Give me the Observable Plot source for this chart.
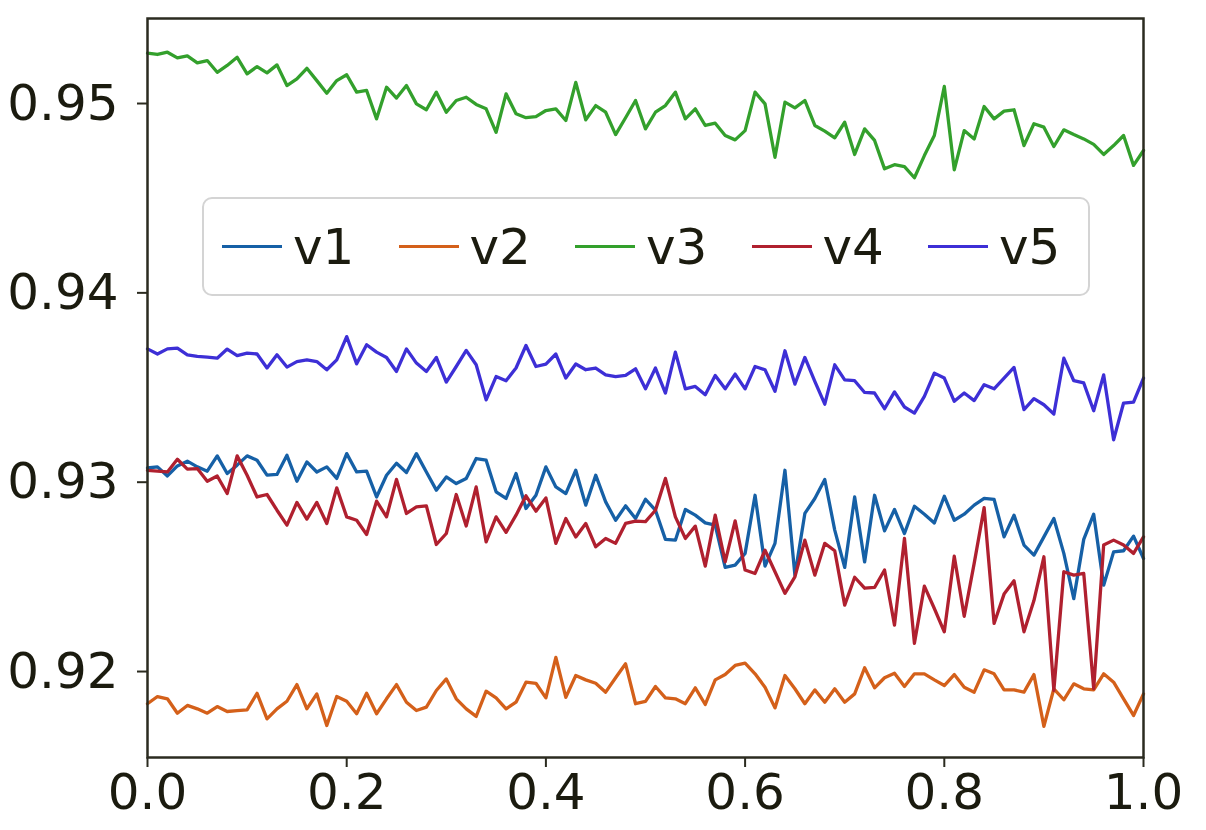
<!DOCTYPE html>
<html><head><meta charset="utf-8">
<script src="https://cdn.jsdelivr.net/npm/d3@7"></script>
<script src="https://cdn.jsdelivr.net/npm/@observablehq/plot@0.6"></script>
<style>
body{margin:0;background:#fff;}
#wrap{position:relative;width:1206px;height:830px;}
#legend{position:absolute;left:202px;top:197px;width:884px;height:95px;border:2px solid #d4d4d4;border-radius:10px;background:rgba(255,255,255,0.85);}
.item{position:absolute;top:0;height:95px;display:flex;align-items:center;}
.sw{width:60px;height:3px;margin-right:11px}
.lab{font:50px "DejaVu Sans";color:#1b1b0f;line-height:1}
</style></head>
<body><div id="wrap"></div>
<script>
const names = ["v1","v2","v3","v4","v5"];
const colors = ["#1660a6","#d4601a","#33a02c","#b0202f","#3d2fd6"];
const xTicks = [0,0.2,0.4,0.6,0.8,1.0];
const yTicks = [0.92,0.93,0.94,0.95];
const yDomain = [0.91546,0.95449];
const xDomain = [0,1];
const xStep = 0.01;

const v1 = [0.93075,0.93081,0.93033,0.93086,0.93111,0.93081,0.93058,0.93139,0.93046,0.9309,
0.93139,0.93116,0.93037,0.93041,0.93142,0.93005,0.93107,0.93054,0.93081,0.9302,
0.93151,0.93054,0.93058,0.92922,0.93037,0.931,
0.93051,0.93151,0.93054,0.92958,0.93028,0.92993,0.9302,0.93125,0.93116,0.92949,
0.92914,0.93046,0.92861,0.92931,0.93081,0.92975,0.9294,0.93063,0.92879,0.93037,
0.92896,0.92799,0.92875,0.92808,0.9291,
0.92852,0.92698,0.92694,0.92856,0.92826,0.92785,0.92773,0.9255,0.92562,0.92624,
0.92931,0.92557,0.92677,0.93063,0.92509,0.92835,0.92914,0.93014,0.92747,0.9255,
0.92922,0.92579,0.92931,0.92743,0.92856,
0.92729,0.92873,0.92831,0.92785,0.92926,0.92799,0.92831,0.92879,0.92914,0.92909,
0.92711,0.92826,0.92668,0.92615,0.92711,0.92808,0.92624,0.92385,0.92698,0.92831,
0.92456,0.92632,0.92638,0.92715,0.92597];

const v2 = [0.9183,0.91868,0.91856,0.9178,0.91821,0.91803,0.9178,0.91815,0.91789,0.91794,
0.91798,0.91885,0.9175,0.91803,0.91843,0.91931,0.91803,0.91882,0.91715,0.91868,
0.91843,0.91777,0.91885,0.91777,0.91856,0.91931,0.91838,0.91794,0.91812,0.919,
0.91961,0.91856,0.91803,0.91763,0.91896,0.91861,0.91803,0.91838,0.91944,0.91938,
0.91861,0.92075,0.91864,0.91979,0.91956,0.91938,0.91891,0.91967,0.92041,0.9183,
0.91842,
0.91921,0.91861,0.91856,0.9183,0.91914,0.91826,0.91956,0.91984,0.92032,0.92044,
0.91988,0.91917,0.91808,0.91979,0.91909,0.9183,0.91903,0.91838,0.91909,0.91838,
0.91882,0.9202,0.91914,0.91967,0.91991,0.91921,0.91988,0.91988,0.91956,0.91926,
0.91984,0.91917,0.91891,0.92009,0.91988,0.91903,0.91903,0.91891,0.91984,0.9171,
0.91909,0.91851,0.91935,0.91909,0.91903,0.91988,0.91944,0.91856,0.91768,0.91882];

const v3 = [0.95266,0.95259,0.95271,0.95241,0.95252,0.95215,0.95227,0.95165,0.95201,0.95244,
0.95157,0.95195,0.95162,0.95204,0.95095,0.9513,0.95186,0.95121,0.95054,0.95121,
0.95152,0.9506,0.95069,0.94919,0.95086,0.95029,
0.95095,0.94998,0.94967,0.9506,0.94954,0.95016,0.95033,0.94995,0.94972,0.94848,
0.95051,0.94946,0.94925,0.94931,0.94963,0.94972,0.9491,0.95112,0.94914,0.94989,
0.94954,0.94836,0.94925,0.95016,0.94866,
0.94954,0.94989,0.9506,0.94919,0.94972,0.94884,0.94896,0.94831,0.94808,0.94857,
0.9506,0.94998,0.94716,0.95007,0.94977,0.95016,0.94884,0.94854,0.94819,0.94901,
0.94731,0.94866,0.94805,0.94655,0.94677,
0.94667,0.94608,0.94725,0.94831,0.9509,0.9465,0.94857,0.94813,0.94984,0.94919,
0.9496,0.94967,0.94778,0.94893,0.94875,0.94773,0.94861,0.94836,0.94813,0.94784,
0.94731,0.94778,0.94831,0.94673,0.94752];

const v4 = [0.93063,0.93058,0.93054,0.93121,0.93069,0.93072,0.93005,0.93033,0.9294,0.93139,
0.93037,0.92922,0.92935,0.92852,0.92773,0.92893,0.92805,0.92893,0.92782,0.9297,
0.92817,0.92799,0.92724,0.929,0.92817,0.93015,
0.92835,0.9287,0.92875,0.92671,0.92729,0.92935,0.92769,0.92975,0.92685,0.92817,
0.92735,0.92826,0.92928,0.92847,0.92917,0.92677,0.92808,0.92711,0.92782,0.92659,
0.92703,0.92677,0.92782,0.92794,0.92792,
0.92852,0.9302,0.92817,0.92703,0.92768,0.92557,0.92826,0.92579,0.92796,0.92536,
0.92518,0.92641,0.92527,0.92413,0.925,0.92694,0.92509,0.92677,0.92638,0.92351,
0.92498,0.9244,0.92444,0.92536,0.92245,
0.92703,0.92149,0.92451,0.92333,0.9221,0.92609,0.92292,0.92571,0.92866,0.92254,
0.92409,0.92479,0.9221,0.92375,0.92606,0.919,0.92527,0.92509,0.92518,0.9191,
0.92668,0.92694,0.92668,0.92624,0.92711];

const v5 = [0.93704,0.93677,0.93704,0.93708,0.93673,0.93664,0.93661,0.93655,0.93703,0.93669,
0.93682,0.93677,0.93603,0.93673,0.93608,0.93637,0.93646,0.93637,0.93594,0.93646,
0.93769,0.93625,0.93726,0.93687,0.93659,0.93585,0.93704,0.93629,0.93585,0.93659,
0.93529,0.93611,0.93696,0.9362,0.93435,0.93558,0.93536,0.93603,0.93722,0.93611,
0.93624,0.93677,0.9355,0.93624,0.93594,0.93603,0.93567,0.93558,0.93564,0.93599,
0.93493,
0.93603,0.93471,0.93687,0.93493,0.93506,0.93462,0.93564,0.93493,0.93571,0.93493,
0.93611,0.93594,0.9348,0.93694,0.93518,0.93659,0.93532,0.93412,0.9362,0.9354,
0.93536,0.93474,0.93471,0.93388,0.93477,0.93397,0.93365,0.93453,0.93576,0.9355,
0.93427,0.93471,0.93431,0.93515,0.93493,0.9355,0.93606,0.93383,0.93441,0.93409,
0.9336,0.93655,0.93536,0.93524,0.93377,0.93567,0.93224,0.93418,0.93423,0.9355];

const seriesValues = [v1,v2,v3,v4,v5];
const rows = [];
names.forEach((s, k) => seriesValues[k].forEach((v, i) => rows.push({s, x: i * xStep, v})));

const textColor = "#1b1b0f";
const chart = Plot.plot({
  width: 1206, height: 830,
  marginLeft: 147, marginRight: 63, marginTop: 18, marginBottom: 73,
  style: {fontFamily: "DejaVu Sans", background: "white", color: textColor},
  x: {domain: xDomain},
  y: {domain: yDomain},
  color: {domain: names, range: colors},
  marks: [
    Plot.line(rows, {x: "x", y: "v", z: "s", stroke: "s", strokeWidth: 3.3}),
    Plot.frame({stroke: "#2b2b20", strokeWidth: 2.5}),
    Plot.axisX({ticks: xTicks, tickFormat: d => d.toFixed(1), tickSize: 10, tickPadding: 6, fontSize: 50, label: null, stroke: "#2b2b20", strokeWidth: 2, fill: textColor}),
    Plot.axisY({ticks: yTicks, tickFormat: d => d.toFixed(2), tickSize: 10, tickPadding: 19, fontSize: 50, label: null, stroke: "#2b2b20", strokeWidth: 2, fill: textColor})
  ]
});
const wrap = document.getElementById("wrap");
wrap.appendChild(chart);

const legend = document.createElement("div");
legend.id = "legend";
names.forEach((n, i) => {
  const item = document.createElement("div");
  item.className = "item";
  item.style.left = (18 + i * 176.5) + "px";
  const sw = document.createElement("div");
  sw.className = "sw";
  sw.style.background = colors[i];
  const lab = document.createElement("span");
  lab.className = "lab";
  lab.textContent = n;
  item.appendChild(sw); item.appendChild(lab);
  legend.appendChild(item);
});
wrap.appendChild(legend);
</script>
</body></html>
